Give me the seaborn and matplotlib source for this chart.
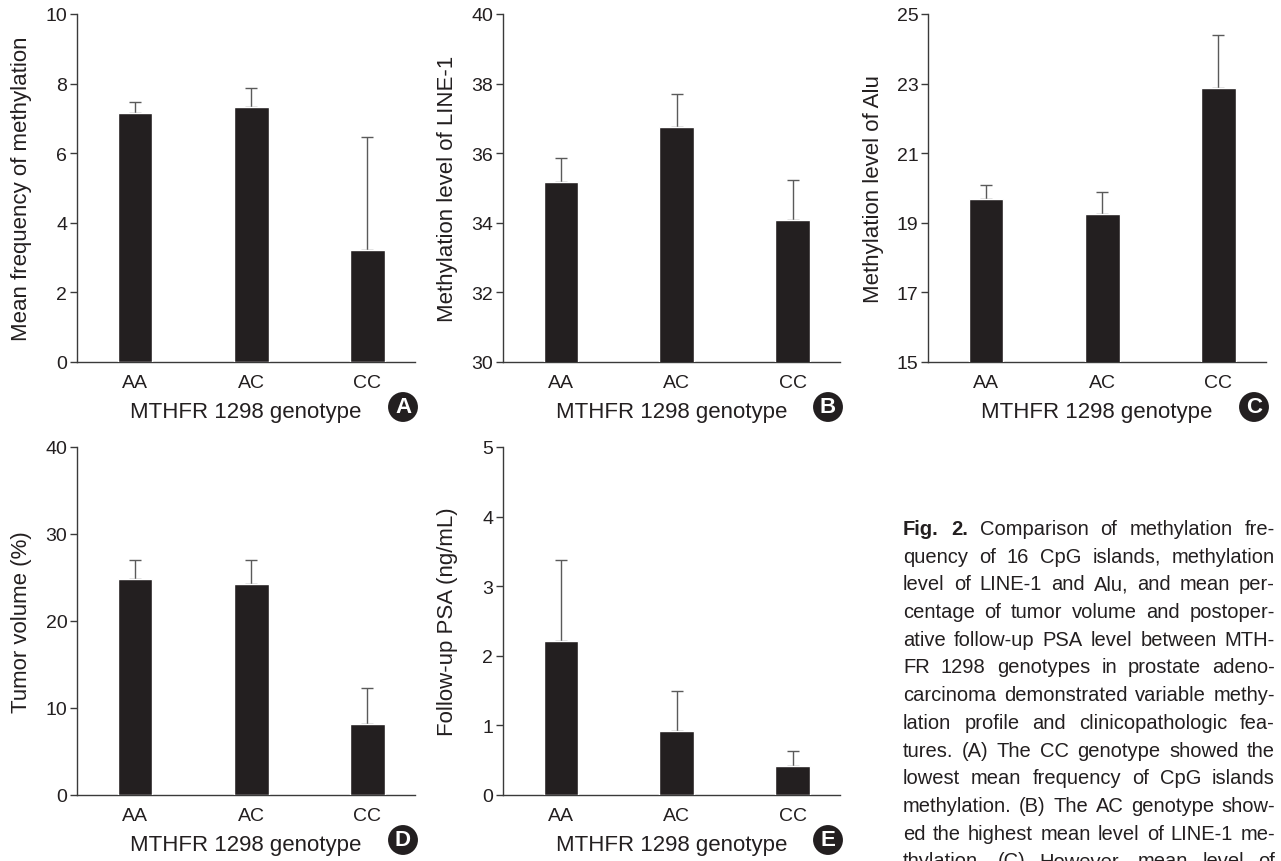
import matplotlib
matplotlib.use("Agg")
import matplotlib.pyplot as plt
import seaborn as sns

genotypes = ["AA", "AC", "CC"]

# (A) mean frequency of CpG island methylation
meth_freq = [7.15, 7.32, 3.22]
meth_freq_top = [7.48, 7.86, 6.46]
# (B) LINE-1 methylation level
line1 = [35.16, 36.75, 34.09]
line1_top = [35.87, 37.70, 35.23]
# (C) Alu methylation level
alu = [19.68, 19.25, 22.87]
alu_top = [20.09, 19.88, 24.40]
# (D) tumor volume
tumor_vol = [24.8, 24.3, 8.2]
tumor_vol_top = [27.05, 27.05, 12.25]
# (E) follow-up PSA
psa = [2.21, 0.92, 0.41]
psa_top = [3.37, 1.50, 0.63]

caption = [
    "Fig. 2. Comparison of methylation fre-",
    "quency of 16 CpG islands, methylation",
    "level of LINE-1 and Alu, and mean per-",
    "centage of tumor volume and postoper-",
    "ative follow-up PSA level between MTH-",
    "FR 1298 genotypes in prostate adeno-",
    "carcinoma demonstrated variable methy-",
    "lation profile and clinicopathologic fea-",
    "tures. (A) The CC genotype showed the",
    "lowest mean frequency of CpG islands",
    "methylation. (B) The AC genotype show-",
    "ed the highest mean level of LINE-1 me-",
    "thylation. (C) However, mean level of",
]

sns.set_style("ticks")
plt.rcParams["font.family"] = ["Liberation Sans", "DejaVu Sans"]

W, H = 1281, 862
fig = plt.figure(figsize=(W / 100, H / 100), dpi=100)

ink = "#231f20"
axis_col = "#3a3a3a"

panels = [
    # values, tops, ylabel, ylim, yticks, box (l, t, r, b) px, letter
    (meth_freq, meth_freq_top, "Mean frequency of methylation", (0, 10), range(0, 11, 2), (77, 15, 415, 363), "A"),
    (line1, line1_top, "Methylation level of LINE-1", (30, 40), range(30, 41, 2), (503, 15, 840, 363), "B"),
    (alu, alu_top, "Methylation level of Alu", (15, 25), range(15, 26, 2), (928, 15, 1266, 363), "C"),
    (tumor_vol, tumor_vol_top, "Tumor volume (%)", (0, 40), range(0, 41, 10), (77, 448, 415, 796), "D"),
    (psa, psa_top, "Follow-up PSA (ng/mL)", (0, 5), range(0, 6, 1), (503, 448, 840, 796), "E"),
]

for vals, tops, ylab, ylim, yticks, (l, t, r, b), letter in panels:
    ax = fig.add_axes([l / W, 1 - b / H, (r - l) / W, (b - t) / H])
    sns.barplot(x=genotypes, y=vals, color=ink, saturation=1, width=0.3,
                errorbar=None, ax=ax, zorder=3)
    err = [tp - v for tp, v in zip(tops, vals)]
    ax.errorbar(range(len(vals)), vals, yerr=[[0] * len(vals), err], fmt="none",
                ecolor="#5a5a5a", elinewidth=1.0, capsize=4, capthick=1.0, zorder=2)
    ax.set_xlim(-0.5, 2.41)
    ax.set_ylim(*ylim)
    ax.set_yticks(list(yticks))
    sns.despine(ax=ax)
    for s in ("left", "bottom"):
        ax.spines[s].set_color(axis_col)
        ax.spines[s].set_linewidth(1.0)
    ax.tick_params(axis="y", length=5, width=1.0, color=axis_col, pad=2,
                   labelsize=14, labelcolor=ink)
    ax.tick_params(axis="x", length=0, pad=9, labelsize=14, labelcolor=ink)
    ax.set_ylabel(ylab, fontsize=16, color=ink, va="center")
    ax.yaxis.set_label_coords(-55 / (r - l), 0.5)
    ax.set_xlabel("MTHFR 1298 genotype", fontsize=16, color=ink, va="center")
    ax.xaxis.set_label_coords(0.5, -50 / (b - t))
    ax.grid(False)
    # panel letter badge
    fig.text((r - 12) / W, 1 - (b + 45) / H, letter, ha="center", va="center",
             color="white", fontsize=16, fontweight="bold",
             bbox=dict(boxstyle="circle,pad=0.2", fc=ink, ec="none"))

# justified caption block
renderer = fig.canvas.get_renderer()
cap_left, cap_right = 903, 1275
base_y, line_h = 535, 27.7
for i, line in enumerate(caption):
    words = line.split(" ")
    y = 1 - (base_y + i * line_h) / H
    texts = []
    for j, w in enumerate(words):
        bold = i == 0 and j < 2
        texts.append(fig.text(0, y, w, fontsize=14.5, color=ink, va="baseline",
                              fontweight="bold" if bold else "normal"))
    widths = [tx.get_window_extent(renderer).width for tx in texts]
    gap = (cap_right - cap_left - sum(widths)) / max(len(words) - 1, 1)
    x = cap_left
    for tx, wd in zip(texts, widths):
        tx.set_x(x / W)
        x += wd + gap

fig.savefig("out.png", dpi=100)
